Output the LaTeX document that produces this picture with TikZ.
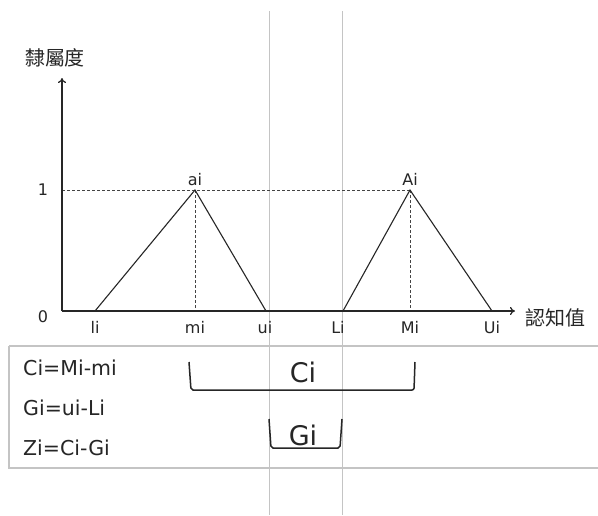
\documentclass[tikz,border=0pt]{standalone}
\usepackage{fontspec}
\setmainfont{DejaVu Sans}
\newfontfamily\cjk{Noto Sans CJK TC}
\usetikzlibrary{arrows.meta,positioning}
\definecolor{fzInk}{HTML}{262626}
\definecolor{fzMuted}{HTML}{444444}
\definecolor{fzGrid}{HTML}{C4C4C4}
\tikzset{
  fz/axis/.style={draw=fzInk, line width=1.2pt, -{To[length=5pt,width=8pt]}},
  fz/member/.style={draw=fzInk, line width=1.1pt},
  fz/guide/.style={draw=fzMuted, line width=0.9pt, dash pattern=on 3pt off 2pt},
  fz/rule/.style={draw=fzGrid, line width=0.9pt},
  fz/frame/.style={draw=fzGrid, line width=1.2pt},
  fz/tick/.style={font=\fontsize{16}{16}\selectfont, text=fzInk, anchor=base,
    inner sep=0pt},
  fz/axislabel/.style={font=\cjk\fontsize{20}{20}\selectfont, text=fzInk},
  fz/formula/.style={font=\fontsize{20.5}{20.5}\selectfont, text=fzInk,
    anchor=base west, inner sep=0pt},
  fz/bracket/.style={draw=fzInk, line width=1.5pt, rounded corners=2pt},
  fz/span/.style={font=\fontsize{27}{27}\selectfont, text=fzInk, anchor=base,
    inner sep=0pt},
}

\begin{document}
\begin{tikzpicture}[x=1pt, y=-1pt]
\fill[white] (0,0) rectangle (598,515);
\useasboundingbox (0,0) rectangle (598,515);

% axes
\coordinate (origin) at (62,311);
\coordinate (ytip) at (62,78);
\coordinate (xtip) at (515,311);
\node[fz/axislabel] (ylabel) at (55,58) {隸屬度};
\node[fz/axislabel, anchor=west] (xlabel) at (522,318) {認知值};
\node[fz/tick] (one) at (43,195) {1};
\node[fz/tick] (zero) at (43,322) {0};

% membership triangles
\coordinate (li) at (95,311);
\coordinate (mi) at (195,311);
\coordinate (ui) at (266,311);
\coordinate (ai) at (195,190);
\coordinate (Li) at (343,311);
\coordinate (Mi) at (410,311);
\coordinate (Ui) at (492,311);
\coordinate (Ai) at (410,190);
\coordinate (oneY) at (62,190);

% gray guide rules
\coordinate (g1top) at (269,11);
\coordinate (g1bot) at (269,515);
\coordinate (g2top) at (342,11);
\coordinate (g2bot) at (342,515);
\draw[fz/rule] (g1top) -- (g1bot);
\draw[fz/rule] (g2top) -- (g2bot);

\draw[fz/guide] (oneY) -- (Ai);
\draw[fz/guide] (ai) -- (mi);
\draw[fz/guide] (Ai) -- (Mi);
\draw[fz/member] (li) -- (ai) -- (ui);
\draw[fz/member] (Li) -- (Ai) -- (Ui);
\draw[fz/axis] (origin) -- (ytip);
\draw[fz/axis] (origin) -- (xtip);

\node[fz/tick] (aiLabel) at (195,185) {ai};
\node[fz/tick] (AiLabel) at (410,185) {Ai};
\node[fz/tick] (liLabel) at (95,333) {li};
\node[fz/tick] (miLabel) at (195,333) {mi};
\node[fz/tick] (uiLabel) at (265,333) {ui};
\node[fz/tick] (LiLabel) at (338,333) {Li};
\node[fz/tick] (MiLabel) at (410,333) {Mi};
\node[fz/tick] (UiLabel) at (492,333) {Ui};

% formula box
\draw[fz/frame] (9,346) -- (599,346);
\draw[fz/frame] (9,346) -- (9,468) -- (599,468);
\node[fz/formula] (ciEq) at (23,375) {Ci=Mi-mi};
\node[fz/formula] (giEq) at (23,415) {Gi=ui-Li};
\node[fz/formula] (ziEq) at (23,455) {Zi=Ci-Gi};

% spans
\draw[fz/bracket] (189,362) -- (191,390) -- (414,390) -- (415,362);
\node[fz/span] (ciSpan) at (303,382) {Ci};
\draw[fz/bracket] (269,419) -- (271,448) -- (340,448) -- (342,419);
\node[fz/span] (giSpan) at (303,445) {Gi};
\end{tikzpicture}
\end{document}
